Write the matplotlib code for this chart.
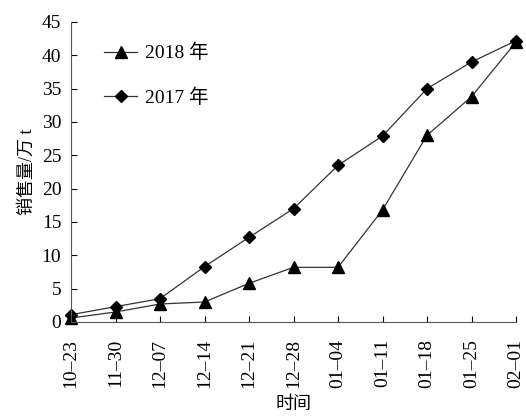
import numpy as np
import matplotlib.pyplot as plt

# 数据
dates = ['10-23', '11-30', '12-07', '12-14', '12-21', '12-28',
         '01-04', '01-11', '01-18', '01-25', '02-01']
sales_2018 = [0.6, 1.5, 2.7, 3.0, 5.8, 8.2, 8.2, 16.8, 28.0, 33.8, 42.0]
sales_2017 = [1.1, 2.3, 3.5, 8.3, 12.7, 17.0, 23.5, 27.9, 35.0, 39.0, 42.2]
yticks = [0, 5, 10, 15, 20, 25, 30, 35, 40, 45]

plt.rcParams['font.family'] = ['Liberation Serif', 'Noto Sans CJK SC']

fig = plt.figure(figsize=(5.26, 4.17), dpi=100)
ax = fig.add_axes([71/526, 1-322/417, (516-71)/526, (322-22)/417])

x = np.arange(len(dates))
ax.plot(x, sales_2018, color='#333333', lw=0.9, marker='^', ms=8,
        mfc='black', mec='black', label='2018 年', clip_on=False)
ax.plot(x, sales_2017, color='#333333', lw=0.9, marker='D', ms=6,
        mfc='black', mec='black', label='2017 年', clip_on=False)

ax.set_xlim(0, 10)
ax.set_ylim(0, 45)
ax.set_xticks(x)
ax.set_xticklabels([d.replace('-', '–') for d in dates], rotation=90)
ax.set_yticks(yticks)
ax.tick_params(direction='in', length=4, width=0.8, labelsize=14)
ax.tick_params(axis='x', pad=12)
ax.tick_params(axis='y', pad=7)
for s in ['top', 'right']:
    ax.spines[s].set_visible(False)
for s in ['left', 'bottom']:
    ax.spines[s].set_color('#555555')

ax.set_xlabel('时间', fontsize=13, labelpad=6)
ax.set_ylabel('销售量/万 t', fontsize=13, labelpad=4)

ax.legend(loc='upper left', bbox_to_anchor=(0.035, 0.985), frameon=False,
          fontsize=14, handlelength=1.7, labelspacing=1.35, handletextpad=0.4)

fig.savefig('out.png', dpi=100)
